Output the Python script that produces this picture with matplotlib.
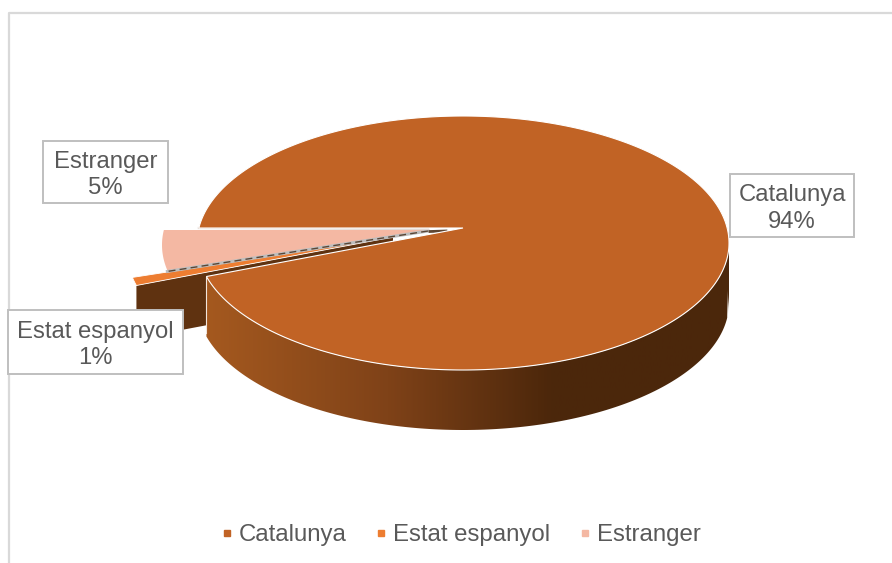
import numpy as np
import matplotlib
matplotlib.use("Agg")
import matplotlib.pyplot as plt
from matplotlib.colors import LinearSegmentedColormap
from matplotlib.lines import Line2D
from matplotlib.patches import Polygon, Rectangle

plt.rcParams["font.family"] = ["Liberation Sans", "DejaVu Sans"]

categories = ["Catalunya", "Estat espanyol", "Estranger"]
shares = [94, 1, 5]
colors = ["#C16325", "#ED7D31", "#F4B8A3"]

TEXT = "#595959"
RX, RY = 266, 127
TILT = RY / RX
DEPTH = 60


def wedge(apex, theta1, theta2, n=300):
    # outline of a slice: rays from the apex cut the perspective ellipse
    ax0, ay0 = apex
    dy0 = -15 / RY  # the ellipse centre sits 15 px below the apex
    pts = []
    for th in np.radians(np.linspace(theta1, theta2, n)):
        ux, uy = np.cos(th), -TILT * np.sin(th)
        a = (ux / RX) ** 2 + (uy / RY) ** 2
        b = 2 * dy0 * uy / RY
        c = dy0 ** 2 - 1
        s = (-b + np.sqrt(b * b - 4 * a * c)) / (2 * a)
        pts.append((ax0 + s * ux, ay0 + s * uy))
    return np.array(pts)


fig = plt.figure(figsize=(8.92, 5.63), dpi=100)
ax = fig.add_axes([0, 0, 1, 1])
ax.set_xlim(0, 892)
ax.set_ylim(563, 0)
ax.axis("off")

# chart frame, cut by the picture on the right and at the bottom
ax.plot([8.5, 8.5, 892], [563, 12.5, 12.5], color="#D9D9D9", lw=1.6, zorder=1)

# slice angles come from the shares, going clockwise from the left
ang = 3.6 * np.array(shares)
cat_end = 180 + ang[2] + ang[1]
est_mid = 180 + ang[2]

apex_cat = (463, 228)
apex_esp = (393, 237)
apex_for = (428, 230)

# Estat espanyol: dark cut face, then the top
arc_esp = wedge(apex_esp, est_mid, cat_end, 20)
corner = arc_esp[-1]
face = [corner, apex_esp, (apex_esp[0], apex_esp[1] + 53), (corner[0], corner[1] + 53)]
ax.add_patch(Polygon(face, closed=True, fc="#5F3210", ec="none", zorder=2))
ax.add_patch(Polygon(np.vstack([apex_esp, arc_esp]), closed=True, fc=colors[1], ec="white", lw=0.6, zorder=3))

# Estranger with its thin side face
arc_for = wedge(apex_for, 180, est_mid, 80)
ax.add_patch(Polygon(np.vstack([apex_for, arc_for]), closed=True, fc=colors[2], ec="none", zorder=4))
ax.plot([apex_for[0], arc_for[-1][0]], [apex_for[1] + 1, arc_for[-1][1] + 1], color="#BDBDBD", lw=2.2, zorder=5)
ax.plot([apex_for[0], arc_for[-1][0]], [apex_for[1] + 1, arc_for[-1][1] + 1], color="#5A4636", lw=1, ls=(0, (5, 3)), zorder=5)
ax.plot([arc_for[0][0] + 35, apex_for[0]], [arc_for[0][1] - 2, apex_for[1] - 1], color="#E4DAD4", lw=1.6, zorder=5)
ax.plot([apex_for[0] + 2, apex_for[0] + 18], [apex_for[1] + 1.5, apex_for[1] + 1], color="#5F4632", lw=2, zorder=5)

# Catalunya side wall with horizontal gradient
arc_cat = wedge(apex_cat, cat_end, 540, 500)
wall_top = arc_cat[arc_cat[:, 1] >= 228]
wall_top = wall_top[np.argsort(wall_top[:, 0])]
wall = np.vstack([wall_top, (wall_top + [0, DEPTH])[::-1]])
shade = LinearSegmentedColormap.from_list(
    "shade", [(0, "#A5591F"), (0.35, "#7F4218"), (0.66, "#4C270B"), (1, "#4B270C")])
grad = ax.imshow(np.linspace(0, 1, 256).reshape(1, -1), cmap=shade, aspect="auto",
                 extent=[204, 729, 563, 0], zorder=6)
grad.set_clip_path(Polygon(wall, closed=True, transform=ax.transData))
ax.set_xlim(0, 892)
ax.set_ylim(563, 0)
ax.plot([wall_top[0, 0]] * 2, [wall_top[0, 1], wall_top[0, 1] + DEPTH - 4], color="#F2E6DC", lw=0.8, zorder=6)

# Catalunya top
ax.add_patch(Polygon(np.vstack([apex_cat, arc_cat]), closed=True, fc=colors[0], ec="white", lw=0.8, zorder=7))

# data labels
boxes = [(730, 174, 124, 63), (8, 310, 175, 64), (43, 141, 125, 62)]
for name, share, (bx, by, bw, bh) in zip(categories, shares, boxes):
    ax.add_patch(Rectangle((bx, by), bw, bh, fc="white", ec="#BFBFBF", lw=1.4, zorder=8))
    ax.text(bx + bw / 2, by + bh / 2 + 3, f"{name}\n{share}%", ha="center", va="center",
            fontsize=17.2, color=TEXT, linespacing=1.25, zorder=9)

# legend
handles = [Line2D([], [], ls="none", marker="s", ms=5, mfc=c, mec=c) for c in colors]
ax.legend(handles, categories, loc="center", bbox_to_anchor=(461.5, 535), bbox_transform=ax.transData,
          ncols=3, frameon=False, fontsize=17.3, labelcolor=TEXT, handlelength=0.4,
          handletextpad=0.3, columnspacing=1.23, borderpad=0)

fig.savefig("out.png", dpi=100)
